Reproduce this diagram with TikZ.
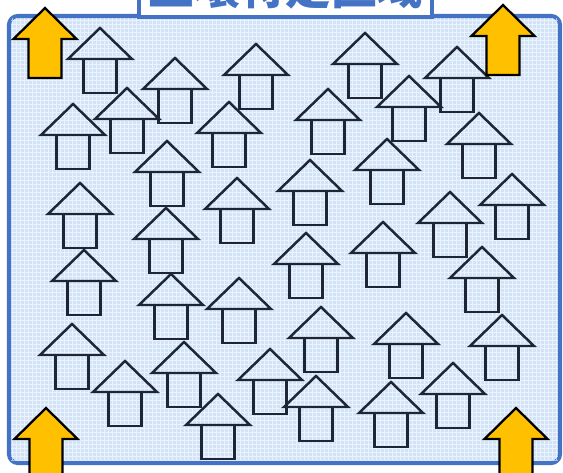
\documentclass[tikz,border=0pt]{standalone}
\usepackage{fontspec}
\newfontfamily\jpfont{Noto Sans CJK JP}
\definecolor{frameblue}{RGB}{68,114,196}
\definecolor{areafill}{RGB}{210,227,248}
\definecolor{houseline}{RGB}{28,38,52}
\definecolor{signorange}{RGB}{255,192,0}

\begin{document}
\begin{tikzpicture}[x=0.02cm,y=-0.02cm,frame/.style={draw=frameblue,line width=2.3pt},house/.style={draw=houseline,line width=1.4pt},marker/.style={draw=black,line width=1.3pt,fill=signorange},gridline/.style={white,opacity=.55,line width=.35pt,step=0.08cm},
uparr/.pic={\draw[house] (-32,31)--(0,0)--(32,31)--cycle;\draw[house] (-16.5,31) rectangle (16.5,65);},
corner/.pic={\draw[marker] (0,0)--(31.5,31)--(16.5,31)--(16.5,70)--(-16.5,70)--(-16.5,31)--(-31.5,31)--cycle;}]
\useasboundingbox (0,0) rectangle (563,472);\clip (0,0) rectangle (563,472);
% soil area
\draw[frame,rounded corners=5pt,fill=areafill] (9,16) rectangle (560,463);
\begin{scope}\clip (11,18) rectangle (558,461);\draw[gridline] (11,18) grid (558,461);\end{scope}
% houses
\foreach \x/\y in {100/28,175/58,256/44,365/33,457/47,127/88,73/104,229/102,328/89,409/76,479/113,167/141,387/139,80/183,237/178,310/160,512/174,450/192,166/208,383/222,306/233,84/250,482/247,171/274,239/278,321/307,72/324,406/313,502/315,125/361,184/342,270/349,316/376,453/363,391/382,218/394}
  \pic at (\x,\y) {uparr};
% corner markers
\pic at (45,8) {corner};\pic at (503,5) {corner};\pic at (46,408) {corner};\pic at (516,408) {corner};
% title
\draw[frame,line width=1.8pt,fill=white] (139,-30) rectangle (432,17);
\node[text=frameblue,font=\jpfont\bfseries\fontsize{26}{26}\selectfont] (title) at (285.5,-13) {土壌特定区域};
\end{tikzpicture}
\end{document}
